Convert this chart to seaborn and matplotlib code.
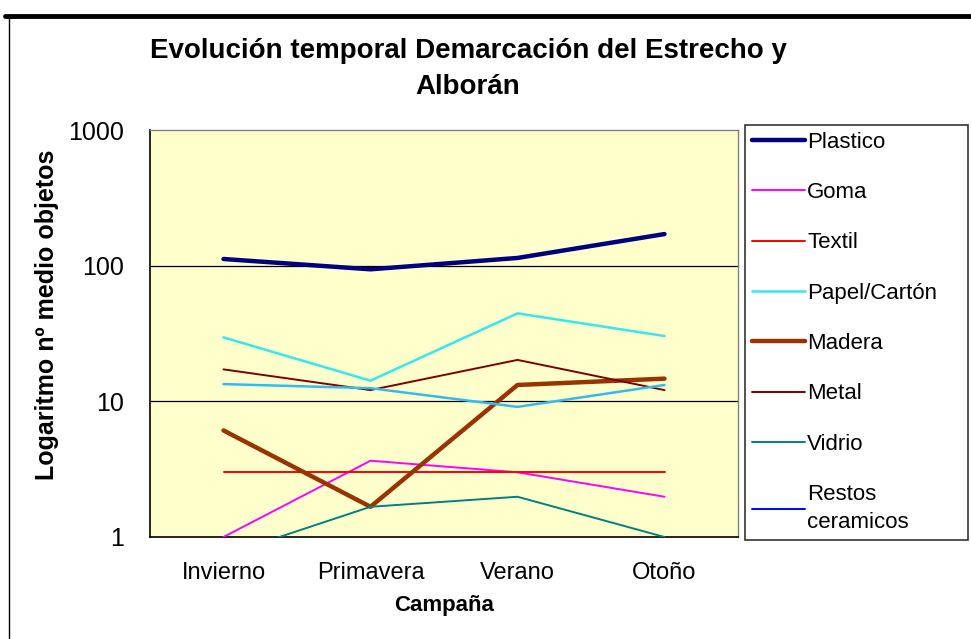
import numpy as np
import pandas as pd
import matplotlib
matplotlib.use("Agg")
import matplotlib.pyplot as plt
from matplotlib.lines import Line2D
import seaborn as sns

# Campañas (estaciones) y nº medio de objetos por tipo de residuo
campanas = ["Invierno", "Primavera", "Verano", "Otoño"]
plastico = [112, 94, 114, 171]
goma = [1.0, 3.65, 3.0, 1.98]
textil = [3.0, 3.0, 3.0, 3.0]
papel_carton = [29.6, 14.2, 44.5, 30.3]
madera = [6.1, 1.67, 13.2, 14.7]
metal = [17.2, 12.1, 20.2, 12.1]
vidrio = [0.73, 1.67, 1.98, 1.0]
restos_ceramicos = [np.nan, np.nan, np.nan, np.nan]
otros = [13.4, 12.5, 9.1, 13.2]

series = [
    ("Plastico", plastico, "#000080", 3.2, True),
    ("Goma", goma, "#FF00FF", 1.4, True),
    ("Textil", textil, "#FF0000", 1.4, True),
    ("Papel/Cartón", papel_carton, "#33E8F0", 1.8, True),
    ("Madera", madera, "#993300", 3.2, True),
    ("Metal", metal, "#800000", 1.4, True),
    ("Vidrio", vidrio, "#008080", 1.4, True),
    ("Restos\nceramicos", restos_ceramicos, "#0000FF", 1.4, True),
    ("Otros", otros, "#33BBEE", 1.8, False),
]

rows = []
for name, vals, _, _, _ in series:
    for i, v in enumerate(vals):
        rows.append({"Tipo": name, "pos": i, "valor": v})
df = pd.DataFrame(rows)

sns.set_style("white")
plt.rcParams["font.family"] = ["Liberation Sans", "DejaVu Sans"]
plt.rcParams["text.color"] = "black"
plt.rcParams["axes.labelcolor"] = "black"
plt.rcParams["xtick.color"] = "black"
plt.rcParams["ytick.color"] = "black"

fig = plt.figure(figsize=(9.71, 6.39), dpi=100)
ax = fig.add_axes([150 / 971, 1 - 537 / 639, 588 / 971, 407 / 639])
ax.set_facecolor("#FFFFCC")

handles = []
for name, vals, color, lw, in_legend in series:
    sub = df[df["Tipo"] == name].dropna()
    if len(sub):
        sns.lineplot(data=sub, x="pos", y="valor", ax=ax, color=color,
                     linewidth=lw, sort=False, legend=False, zorder=3)
    if in_legend:
        handles.append(Line2D([], [], color=color, linewidth=lw, label=name))

ax.set_yscale("log")
ax.set_ylim(1, 1000)
ax.set_xlim(-0.5, 3.5)

# Horizontal gridlines at decades
ax.set_yticks([1, 10, 100, 1000])
ax.set_yticklabels(["1", "10", "100", "1000"], fontsize=18)
ax.yaxis.set_minor_locator(matplotlib.ticker.NullLocator())
for yv in [10, 100]:
    ax.axhline(yv, color="black", linewidth=0.9, zorder=2)

# Category ticks between categories, labels centred on each category
ax.set_xticks([-0.5, 0.5, 1.5, 2.5, 3.5])
ax.set_xticklabels([])
ax.set_xticks(range(len(campanas)), minor=True)
ax.set_xticklabels(campanas, minor=True, fontsize=17)
ax.tick_params(axis="x", which="major", direction="out", length=7, width=1, color="black")
ax.tick_params(axis="x", which="minor", length=0, pad=18)
ax.tick_params(axis="y", which="major", direction="out", length=7, width=1, color="black", pad=12)

for side in ["left", "bottom"]:
    ax.spines[side].set_color("black")
    ax.spines[side].set_linewidth(1.2)
for side in ["top", "right"]:
    ax.spines[side].set_color("#808080")
    ax.spines[side].set_linewidth(1.0)

ax.set_xlabel("Campaña", fontsize=16, fontweight="bold", labelpad=8)
ax.set_ylabel("Logaritmo nº medio objetos", fontsize=18, fontweight="bold")
ax.yaxis.set_label_coords(-0.155, 0.545)

fig.text(468 / 971, 1 - 51 / 639, "Evolución temporal Demarcación del Estrecho y",
         ha="center", va="center", fontsize=20, fontweight="bold")
fig.text(468 / 971, 1 - 87 / 639, "Alborán",
         ha="center", va="center", fontsize=20, fontweight="bold")

leg = fig.legend(handles=handles, loc="upper left",
                 bbox_to_anchor=(745 / 971, 1 - 530 / 639, 223 / 971, 405 / 639),
                 mode="expand", fontsize=16, frameon=True, fancybox=False,
                 handlelength=2.4, handletextpad=0.1, labelspacing=1.32,
                 borderaxespad=0, borderpad=0.3)
for t in leg.get_texts():
    t.set_linespacing(1.45)
leg.get_frame().set_edgecolor("black")
leg.get_frame().set_linewidth(1.2)

# Outer chart frame: heavy top rule and thin left edge
fig.add_artist(Line2D([5 / 971, 1.0], [1 - 16 / 639, 1 - 16 / 639],
                      color="black", linewidth=3.5, transform=fig.transFigure))
fig.add_artist(Line2D([9 / 971, 9 / 971], [0, 1 - 16 / 639],
                      color="black", linewidth=1.0, transform=fig.transFigure))

fig.savefig("out.png", dpi=100, facecolor="white")
